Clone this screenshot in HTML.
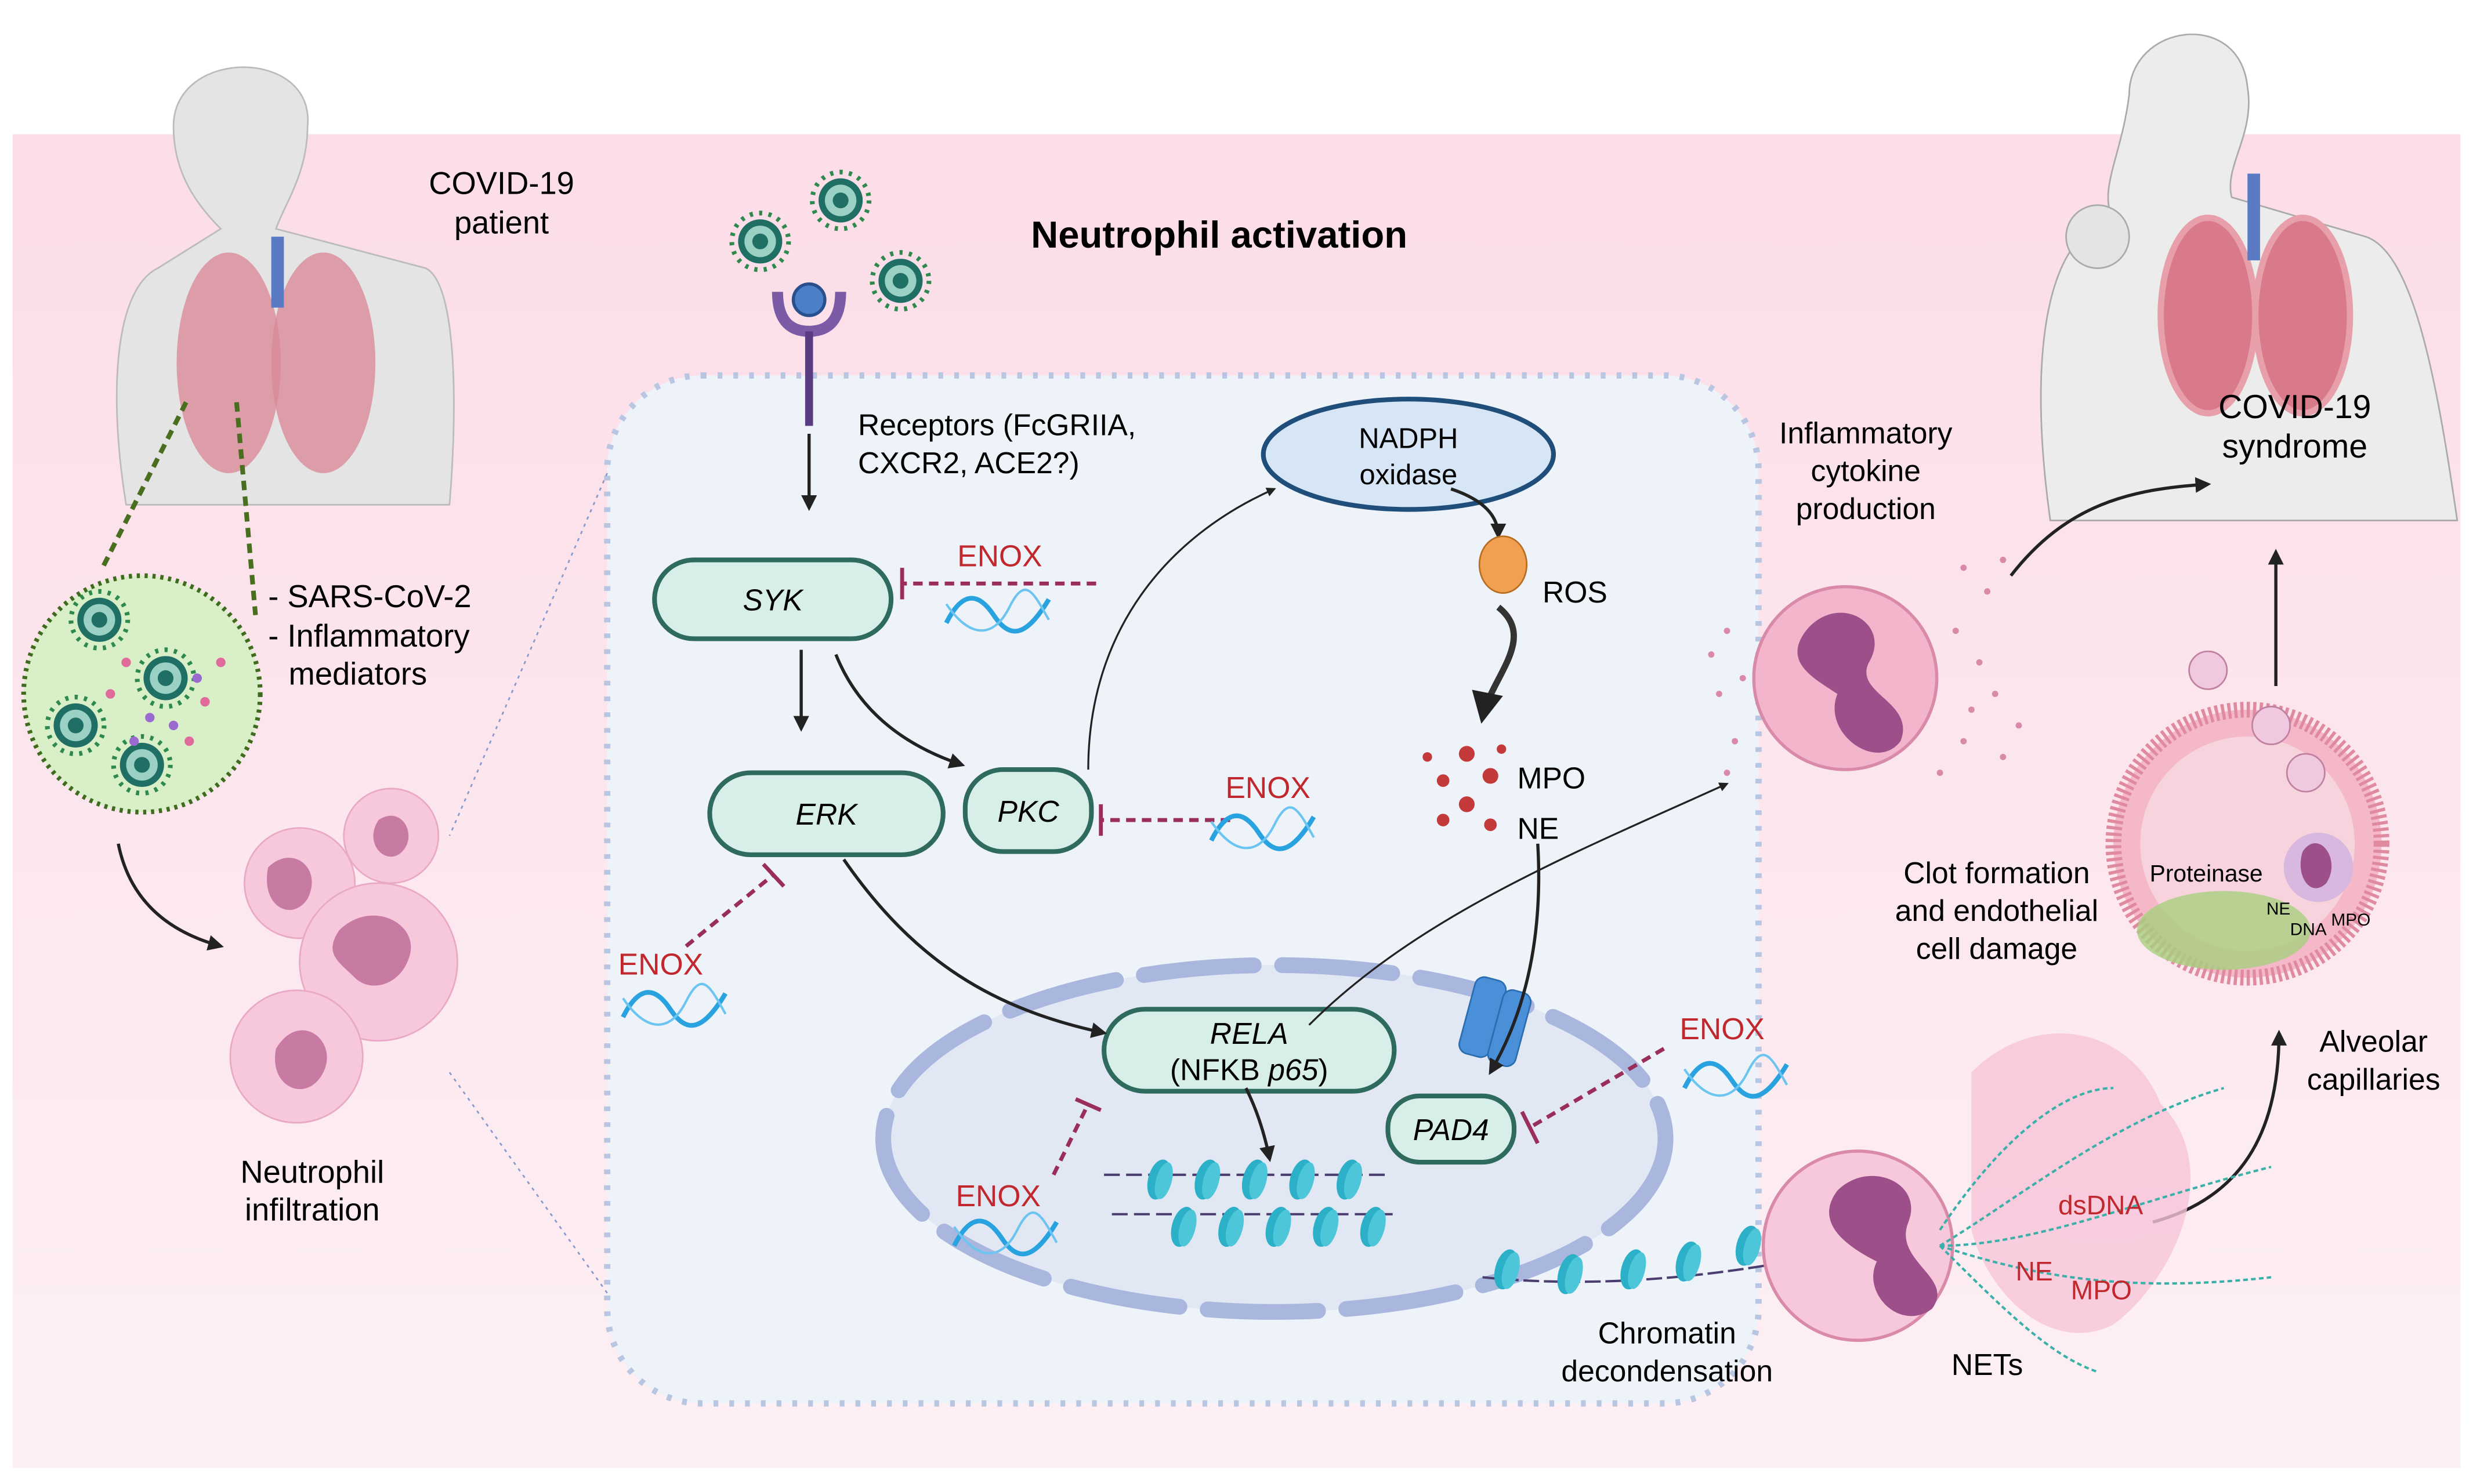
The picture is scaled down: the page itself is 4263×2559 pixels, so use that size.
<!DOCTYPE html>
<html><head><meta charset="utf-8"><style>html,body{margin:0;padding:0;background:#fff}svg{display:block}text{font-family:"Liberation Sans",sans-serif}</style></head><body>
<svg width="4263" height="2559" viewBox="0 0 1568 941" xmlns="http://www.w3.org/2000/svg">
<defs>
<linearGradient id="bg" x1="0" y1="0" x2="0" y2="1"><stop offset="0" stop-color="#fbdde7"/><stop offset="1" stop-color="#fdf0f4"/></linearGradient>
<marker id="ar" viewBox="0 0 10 10" refX="8" refY="5" markerWidth="5" markerHeight="5" orient="auto"><path d="M0,0L10,5L0,10z" fill="#222"/></marker>
<g id="dna"><path d="M0,20 C10,0 20,0 30,15 S50,30 65,5" fill="none" stroke="#29a3e0" stroke-width="3"/><path d="M0,8 C15,30 30,30 40,10 S55,0 65,18" fill="none" stroke="#6cc4f0" stroke-width="1.5"/></g>
<g id="vir"><circle r="14" fill="#1f6f64"/><circle r="10" fill="#9ad1c4"/><circle r="5" fill="#1f6f64"/><circle r="18" fill="none" stroke="#2d8a4c" stroke-width="3" stroke-dasharray="2 4"/></g>
<g id="nuc"><ellipse rx="7" ry="13" fill="#2bb0c8" transform="rotate(15)"/><ellipse cx="3" rx="5" ry="12" fill="#4cc6d8" transform="rotate(15)"/></g>
</defs>
<rect x="8" y="85" width="1552" height="846" fill="url(#bg)"/>
<!-- cell -->
<rect x="385" y="238" width="730" height="652" rx="60" fill="#eef2f9" stroke="#b9c6e2" stroke-width="4" stroke-dasharray="3 7"/>
<line x1="385" y1="300" x2="285" y2="530" stroke="#8899cc" stroke-dasharray="2 3"/>
<line x1="385" y1="820" x2="285" y2="680" stroke="#8899cc" stroke-dasharray="2 3"/>
<!-- nucleus -->
<ellipse cx="808" cy="722" rx="248" ry="110" fill="#e2e7f4" stroke="#a9b6dd" stroke-width="10" stroke-dasharray="70 18" stroke-linecap="round"/>
<!-- left human -->
<path d="M110,80 C110,30 200,30 195,80 C195,110 180,130 175,145 L270,170 C290,180 290,260 285,320 L80,320 C70,260 70,185 100,170 L140,145 C125,130 110,110 110,80z" fill="#e4e4e4" stroke="#bbb"/>
<ellipse cx="145" cy="230" rx="33" ry="70" fill="#d98b98" opacity=".8"/>
<ellipse cx="205" cy="230" rx="33" ry="70" fill="#d98b98" opacity=".8"/>
<rect x="172" y="150" width="8" height="45" fill="#5a7bc4"/>
<text x="318" y="123" font-size="20" text-anchor="middle">COVID-19</text>
<text x="318" y="148" font-size="20" text-anchor="middle">patient</text>
<line x1="118" y1="255" x2="65" y2="360" stroke="#4a6e20" stroke-width="3" stroke-dasharray="6 4"/>
<line x1="150" y1="255" x2="162" y2="390" stroke="#4a6e20" stroke-width="3" stroke-dasharray="6 4"/>
<circle cx="90" cy="440" r="75" fill="#d8efc8" stroke="#3e6b1e" stroke-width="3" stroke-dasharray="2 3"/>
<use href="#vir" x="63" y="393"/><use href="#vir" x="48" y="460"/><use href="#vir" x="90" y="485"/><use href="#vir" x="105" y="430"/>
<g fill="#e06a9a"><circle cx="80" cy="420" r="3"/><circle cx="130" cy="445" r="3"/><circle cx="120" cy="470" r="3"/><circle cx="70" cy="440" r="3"/><circle cx="140" cy="420" r="3"/></g>
<g fill="#9a6ad0"><circle cx="95" cy="455" r="3"/><circle cx="110" cy="460" r="3"/><circle cx="85" cy="470" r="3"/><circle cx="125" cy="430" r="3"/></g>
<text x="170" y="385" font-size="20">- SARS-CoV-2</text>
<text x="170" y="410" font-size="20">- Inflammatory</text>
<text x="183" y="434" font-size="20">mediators</text>
<path d="M75,535 Q85,585 140,600" fill="none" stroke="#222" stroke-width="2" marker-end="url(#ar)"/>
<!-- neutrophils left -->
<circle cx="248" cy="530" r="30" fill="#f7c8dc" stroke="#e9a8c4"/>
<circle cx="190" cy="560" r="35" fill="#f7c8dc" stroke="#e9a8c4"/>
<circle cx="240" cy="610" r="50" fill="#f7c8dc" stroke="#e9a8c4"/>
<circle cx="188" cy="670" r="42" fill="#f7c8dc" stroke="#e9a8c4"/>
<path d="M215,590 C235,570 265,585 260,605 C255,625 235,630 225,620 C215,610 205,605 215,590z" fill="#c77ba3"/>
<path d="M170,550 C185,535 205,550 195,570 C185,585 165,575 170,550z" fill="#c77ba3"/>
<path d="M175,665 C190,640 215,660 205,680 C195,700 170,690 175,665z" fill="#c77ba3"/>
<path d="M240,520 C255,510 265,530 255,540 C245,550 230,535 240,520z" fill="#c77ba3"/>
<text x="198" y="750" font-size="20" text-anchor="middle">Neutrophil</text>
<text x="198" y="774" font-size="20" text-anchor="middle">infiltration</text>
<!-- top viruses & receptor -->
<use href="#vir" x="482" y="153"/><use href="#vir" x="533" y="127"/><use href="#vir" x="571" y="178"/>
<path d="M493,185 Q493,210 513,210 Q533,210 533,185" fill="none" stroke="#7b5aa6" stroke-width="7"/>
<circle cx="513" cy="190" r="10" fill="#4b7fc8" stroke="#28508f" stroke-width="2"/>
<line x1="513" y1="210" x2="513" y2="270" stroke="#5a3d80" stroke-width="5"/>
<line x1="513" y1="275" x2="513" y2="322" stroke="#222" stroke-width="2" marker-end="url(#ar)"/>
<text x="773" y="157" font-size="24" font-weight="bold" text-anchor="middle">Neutrophil activation</text>
<text x="544" y="276" font-size="19">Receptors (FcGRIIA,</text>
<text x="544" y="300" font-size="19">CXCR2, ACE2?)</text>
<!-- NADPH -->
<ellipse cx="893" cy="288" rx="92" ry="35" fill="#d6e6f7" stroke="#1f4e7a" stroke-width="3"/>
<text x="893" y="284" font-size="18" text-anchor="middle">NADPH</text>
<text x="893" y="307" font-size="18" text-anchor="middle">oxidase</text>
<path d="M920,310 Q950,320 950,340" fill="none" stroke="#222" stroke-width="2" marker-end="url(#ar)"/>
<ellipse cx="953" cy="358" rx="15" ry="18" fill="#f0a050" stroke="#b86d20"/>
<text x="978" y="382" font-size="19">ROS</text>
<path d="M950,385 C975,405 945,430 940,455" fill="none" stroke="#333" stroke-width="4" marker-end="url(#ar)"/>
<g fill="#c43a3a"><circle cx="930" cy="478" r="5"/><circle cx="945" cy="492" r="5"/><circle cx="915" cy="495" r="4"/><circle cx="930" cy="510" r="5"/><circle cx="945" cy="523" r="4"/><circle cx="915" cy="520" r="4"/><circle cx="905" cy="480" r="3"/><circle cx="952" cy="475" r="3"/></g>
<text x="962" y="500" font-size="19">MPO</text>
<text x="962" y="532" font-size="19">NE</text>
<!-- nodes -->
<rect x="415" y="355" width="150" height="50" rx="25" fill="#d8efe9" stroke="#2e6b5e" stroke-width="3"/>
<text x="490" y="387" font-size="19" font-style="italic" text-anchor="middle">SYK</text>
<rect x="450" y="490" width="148" height="52" rx="26" fill="#d8efe9" stroke="#2e6b5e" stroke-width="3"/>
<text x="524" y="523" font-size="19" font-style="italic" text-anchor="middle">ERK</text>
<rect x="612" y="488" width="80" height="52" rx="24" fill="#d8efe9" stroke="#2e6b5e" stroke-width="3"/>
<text x="652" y="521" font-size="19" font-style="italic" text-anchor="middle">PKC</text>
<rect x="700" y="640" width="184" height="52" rx="26" fill="#d8efe9" stroke="#2e6b5e" stroke-width="3"/>
<text x="792" y="662" font-size="19" font-style="italic" text-anchor="middle">RELA</text>
<text x="792" y="685" font-size="19" text-anchor="middle">(NFKB <tspan font-style="italic">p65</tspan>)</text>
<rect x="880" y="695" width="80" height="42" rx="20" fill="#d8efe9" stroke="#2e6b5e" stroke-width="3"/>
<text x="920" y="723" font-size="19" font-style="italic" text-anchor="middle">PAD4</text>
<!-- pore -->
<rect x="930" y="620" width="20" height="50" rx="6" fill="#4a90d9" stroke="#2a6db0" transform="rotate(15 940 645)"/>
<rect x="948" y="628" width="18" height="48" rx="6" fill="#4a90d9" stroke="#2a6db0" transform="rotate(15 957 652)"/>
<!-- arrows -->
<line x1="508" y1="412" x2="508" y2="462" stroke="#222" stroke-width="2" marker-end="url(#ar)"/>
<path d="M530,415 Q550,465 610,485" fill="none" stroke="#222" stroke-width="2" marker-end="url(#ar)"/>
<path d="M690,488 C690,400 740,340 808,310" fill="none" stroke="#222" stroke-width="1.2" marker-end="url(#ar)"/>
<path d="M535,545 C580,610 630,640 700,655" fill="none" stroke="#222" stroke-width="2" marker-end="url(#ar)"/>
<path d="M790,690 Q800,710 805,735" fill="none" stroke="#222" stroke-width="2" marker-end="url(#ar)"/>
<path d="M975,535 Q980,620 945,680" fill="none" stroke="#222" stroke-width="2" marker-end="url(#ar)"/>
<path d="M830,650 C900,580 1000,540 1095,497" fill="none" stroke="#222" stroke-width="1.2" marker-end="url(#ar)"/>
<!-- inhibitors -->
<g stroke="#9a2e5a" stroke-width="2.5" fill="none">
<line x1="695" y1="370" x2="572" y2="370" stroke-dasharray="6 4"/><line x1="572" y1="360" x2="572" y2="380"/>
<line x1="780" y1="520" x2="698" y2="520" stroke-dasharray="6 4"/><line x1="698" y1="510" x2="698" y2="530"/>
<line x1="435" y1="600" x2="490" y2="555" stroke-dasharray="6 4"/><line x1="484" y1="548" x2="497" y2="562"/>
<line x1="668" y1="745" x2="690" y2="700" stroke-dasharray="6 4"/><line x1="682" y1="697" x2="698" y2="704"/>
<line x1="1055" y1="665" x2="970" y2="715" stroke-dasharray="6 4"/><line x1="965" y1="705" x2="975" y2="725"/>
</g>
<g font-size="19" fill="#c0282d">
<text x="607" y="359">ENOX</text><text x="777" y="506">ENOX</text><text x="392" y="618">ENOX</text><text x="606" y="765">ENOX</text><text x="1065" y="659">ENOX</text>
</g>
<use href="#dna" x="600" y="375"/><use href="#dna" x="768" y="513"/><use href="#dna" x="395" y="625"/><use href="#dna" x="605" y="770"/><use href="#dna" x="1068" y="670"/>
<!-- nucleosomes -->
<path d="M700,745 L880,745 M705,770 L885,770" stroke="#4a3d70" stroke-width="1.5" stroke-dasharray="10 4"/>
<g><use href="#nuc" x="735" y="748"/><use href="#nuc" x="765" y="748"/><use href="#nuc" x="795" y="748"/><use href="#nuc" x="825" y="748"/><use href="#nuc" x="855" y="748"/>
<use href="#nuc" x="750" y="778"/><use href="#nuc" x="780" y="778"/><use href="#nuc" x="810" y="778"/><use href="#nuc" x="840" y="778"/><use href="#nuc" x="870" y="778"/></g>
<path d="M940,810 Q1040,820 1160,795" fill="none" stroke="#4a3d70" stroke-width="1.5" stroke-dasharray="10 3"/>
<use href="#nuc" x="955" y="805"/><use href="#nuc" x="995" y="808"/><use href="#nuc" x="1035" y="805"/><use href="#nuc" x="1070" y="800"/><use href="#nuc" x="1108" y="790"/><use href="#nuc" x="1145" y="795"/>
<text x="1057" y="852" font-size="19" text-anchor="middle">Chromatin</text>
<text x="1057" y="876" font-size="19" text-anchor="middle">decondensation</text>
<!-- right human -->
<path d="M1350,60 C1350,15 1420,5 1425,55 C1430,85 1410,105 1415,125 L1500,150 C1530,160 1545,240 1558,330 L1300,330 C1290,260 1290,180 1320,150 L1340,140 C1330,120 1345,100 1350,60z" fill="#ececec" stroke="#aaa"/>
<circle cx="1330" cy="150" r="20" fill="#e4e4e4" stroke="#aaa"/>
<ellipse cx="1400" cy="200" rx="30" ry="62" fill="#d97a8a" stroke="#e7a0aa" stroke-width="4"/>
<ellipse cx="1460" cy="200" rx="30" ry="62" fill="#d97a8a" stroke="#e7a0aa" stroke-width="4"/>
<rect x="1425" y="110" width="8" height="55" fill="#5a7bc4"/>
<text x="1455" y="265" font-size="21" text-anchor="middle">COVID-19</text>
<text x="1455" y="290" font-size="21" text-anchor="middle">syndrome</text>
<line x1="1443" y1="435" x2="1443" y2="350" stroke="#222" stroke-width="2" marker-end="url(#ar)"/>
<!-- inflammatory neutrophil -->
<text x="1183" y="281" font-size="19" text-anchor="middle">Inflammatory</text>
<text x="1183" y="305" font-size="19" text-anchor="middle">cytokine</text>
<text x="1183" y="329" font-size="19" text-anchor="middle">production</text>
<circle cx="1170" cy="430" r="58" fill="#f2b5cc" stroke="#d88aa8" stroke-width="2"/>
<path d="M1145,400 C1165,375 1200,395 1185,420 C1175,440 1215,445 1205,470 C1190,490 1155,465 1165,440 C1150,430 1130,420 1145,400z" fill="#9d4f8a"/>
<g fill="#d88aa8"><circle cx="1095" cy="400" r="2"/><circle cx="1090" cy="440" r="2"/><circle cx="1100" cy="470" r="2"/><circle cx="1240" cy="400" r="2"/><circle cx="1250" cy="450" r="2"/><circle cx="1270" cy="480" r="2"/><circle cx="1245" cy="360" r="2"/><circle cx="1260" cy="375" r="2"/><circle cx="1230" cy="490" r="2"/><circle cx="1280" cy="460" r="2"/><circle cx="1085" cy="415" r="2"/><circle cx="1105" cy="430" r="2"/><circle cx="1095" cy="490" r="2"/><circle cx="1255" cy="420" r="2"/><circle cx="1265" cy="440" r="2"/><circle cx="1245" cy="470" r="2"/><circle cx="1270" cy="355" r="2"/></g>
<path d="M1275,365 C1310,320 1350,310 1400,307" fill="none" stroke="#222" stroke-width="2" marker-end="url(#ar)"/>
<!-- alveolus -->
<circle cx="1425" cy="535" r="85" fill="#f4b8c8" stroke="#e08aa0" stroke-width="10" stroke-dasharray="2 2"/>
<circle cx="1425" cy="535" r="68" fill="#f7d3dd"/>
<ellipse cx="1410" cy="590" rx="55" ry="25" fill="#a8d080" opacity=".8"/>
<circle cx="1470" cy="550" r="22" fill="#d9b8e0"/>
<path d="M1460,540 C1470,525 1485,545 1475,560 C1465,570 1455,555 1460,540z" fill="#9d4f8a"/>
<circle cx="1400" cy="425" r="12" fill="#f0c8e0" stroke="#c080a0"/><circle cx="1440" cy="460" r="12" fill="#f0c8e0" stroke="#c080a0"/><circle cx="1462" cy="490" r="12" fill="#f0c8e0" stroke="#c080a0"/>
<text x="1363" y="559" font-size="15">Proteinase</text>
<text x="1437" y="580" font-size="11">NE</text><text x="1478" y="587" font-size="11">MPO</text><text x="1452" y="593" font-size="11">DNA</text>
<text x="1266" y="560" font-size="19" text-anchor="middle">Clot formation</text>
<text x="1266" y="584" font-size="19" text-anchor="middle">and endothelial</text>
<text x="1266" y="608" font-size="19" text-anchor="middle">cell damage</text>
<text x="1505" y="667" font-size="19" text-anchor="middle">Alveolar</text>
<text x="1505" y="691" font-size="19" text-anchor="middle">capillaries</text>
<path d="M1365,775 C1420,760 1445,720 1445,655" fill="none" stroke="#222" stroke-width="2" marker-end="url(#ar)"/>
<!-- NET -->
<path d="M1250,680 C1290,640 1350,650 1370,700 C1410,740 1380,810 1340,840 C1300,860 1260,820 1250,780z" fill="#f6c4d8" opacity=".8"/>
<circle cx="1178" cy="790" r="60" fill="#f7c8dc" stroke="#d88aa8" stroke-width="2"/>
<path d="M1165,755 C1185,735 1220,750 1210,775 C1200,800 1240,810 1225,830 C1205,845 1180,820 1190,800 C1170,790 1150,775 1165,755z" fill="#9d4f8a"/>
<g fill="none" stroke="#3ab0a8" stroke-width="1.5" stroke-dasharray="3 2">
<path d="M1230,790 C1280,760 1340,710 1410,690"/><path d="M1230,790 C1290,790 1360,760 1440,740"/><path d="M1230,790 C1290,810 1350,820 1440,810"/><path d="M1230,790 C1270,830 1300,860 1330,870"/><path d="M1230,780 C1270,720 1310,690 1340,690"/>
</g>
<text x="1305" y="770" font-size="17" fill="#c0282d">dsDNA</text>
<text x="1278" y="812" font-size="17" fill="#c0282d">NE</text>
<text x="1313" y="824" font-size="17" fill="#c0282d">MPO</text>
<text x="1260" y="872" font-size="19" text-anchor="middle">NETs</text>
</svg>
</body></html>
